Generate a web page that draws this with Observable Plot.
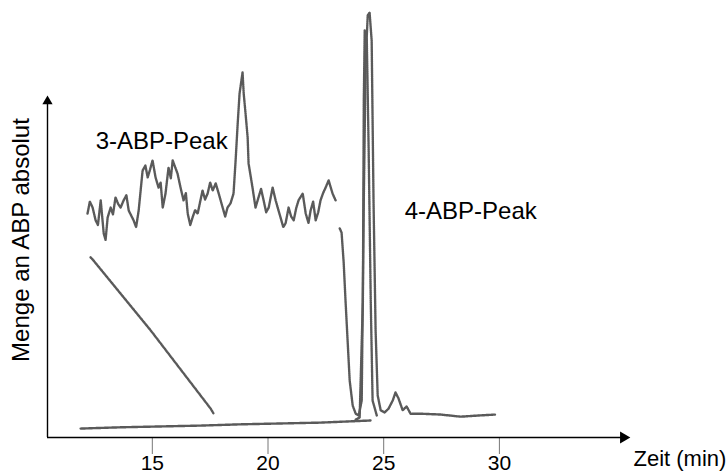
<!DOCTYPE html>
<html>
<head>
<meta charset="utf-8">
<script src="https://cdn.jsdelivr.net/npm/d3@7"></script>
<script src="https://cdn.jsdelivr.net/npm/@observablehq/plot@0.6"></script>
<style>
  html, body { margin: 0; padding: 0; background: #fff; }
  #chart svg { display: block; }
</style>
</head>
<body>
<div id="chart"></div>
<script>
// ---- data (time in min, amount in arbitrary units) ----
const xTicks = [15, 20, 25, 30];
const xDomain = [10.47, 35.45];
const yDomain = [0, 100];
const yAxisTop = 79.8;

// 3-ABP trace (noisy)
const traceA_t = [12.20,12.30,12.42,12.55,12.65,12.77,12.90,12.98,13.07,13.20,13.30,13.41,13.52,13.63,13.76,13.88,13.98,14.19,14.30,14.41,14.58,14.70,14.80,14.90,15.01,15.14,15.27,15.36,15.45,15.57,15.70,15.80,15.88,16.09,16.22,16.35,16.45,16.53,16.64,16.74,16.85,16.96,17.17,17.28,17.39,17.50,17.61,17.74,17.87,18.04,18.15,18.25,18.38,18.51,18.60,18.69,18.77,18.90,18.95,19.03,19.12,19.16,19.33,19.46,19.59,19.70,19.81,19.92,20.03,20.20,20.33,20.45,20.54,20.66,20.76,20.89,21.00,21.11,21.22,21.32,21.50,21.63,21.75,21.84,21.95,22.06,22.17,22.27,22.38,22.49,22.62,22.79,22.92];
const traceA_v = [52.7,55.5,54.1,51.1,50.0,55.8,48.0,46.5,51.8,54.1,52.5,56.5,55.0,54.1,55.8,57.0,53.4,51.1,49.5,53.4,62.8,64.0,61.2,63.0,65.2,61.2,58.8,60.0,54.1,57.4,63.5,61.0,65.2,62.1,58.8,55.8,57.5,52.7,50.0,51.8,53.5,52.7,58.1,56.0,57.4,60.0,58.1,59.8,57.4,54.1,52.0,54.1,55.1,57.4,65.2,73.9,80.9,85.9,80.9,76.2,70.6,64.5,58.8,54.1,56.5,58.5,55.8,53.0,54.1,58.8,55.8,53.5,51.8,49.5,50.4,54.1,52.0,51.1,54.0,55.8,57.4,52.7,50.5,53.4,55.5,51.1,53.0,55.8,57.5,58.8,60.5,57.4,55.8];

// diagonal trace
const traceB_t = [12.33,12.42,14.93,17.52,17.65];
const traceB_v = [42.4,41.9,25.2,6.8,5.6];

// baseline trace
const traceC_t = [11.90,13.63,15.36,17.09,18.82,20.54,22.27,23.57,24.43];
const traceC_v = [2.1,2.4,2.6,2.8,3.1,3.3,3.5,3.8,4.0];

// 4-ABP trace
const traceD_t = [23.10,23.18,23.27,23.35,23.44,23.53,23.66,23.79,23.92,24.05,24.14,24.22,24.31,24.39,24.48,24.56,24.65,24.74,24.87,25.04,25.21,25.39,25.51,25.64,25.82,25.99,26.16,26.59,27.46,28.32,29.19,29.84];
const traceD_v = [49.2,48.2,41.2,32.2,22.8,13.4,7.5,5.6,5.2,8.7,55.8,88.7,99.3,100,93.4,55.8,25.2,9.9,6.4,5.9,6.8,8.7,10.6,9.2,6.4,7.3,5.6,5.6,5.4,4.9,5.2,5.4];

// second 4-ABP trace
const traceE_t = [23.79,23.96,24.10,24.14,24.18,24.27,24.35,24.44,24.52,24.70];
const traceE_v = [4.2,4.7,32.2,79.3,95.8,93.4,67.5,32.2,8.7,5.2];

const peakLabels = ["3-ABP-Peak", "4-ABP-Peak"];
const peakLabel_t = [12.55, 25.91];
const peakLabel_v = [69.6, 53.2];

const xLabel = "Zeit (min)";
const yLabel = "Menge an ABP absolut";

// ---- build rows ----
const mk = (ts, vs, id) => ts.map((t, i) => ({t, v: vs[i], id}));
const traces = [
  ...mk(traceA_t, traceA_v, "A"),
  ...mk(traceB_t, traceB_v, "B"),
  ...mk(traceC_t, traceC_v, "C"),
  ...mk(traceD_t, traceD_v, "D"),
  ...mk(traceE_t, traceE_v, "E")
];
const labels = peakLabels.map((s, i) => ({s, t: peakLabel_t[i], v: peakLabel_v[i]}));

const chart = Plot.plot({
  width: 726,
  height: 475,
  marginLeft: 47,
  marginRight: 101,
  marginTop: 12,
  marginBottom: 38,
  style: {fontFamily: "'Liberation Sans', Arial, sans-serif", background: "#fff", color: "#000"},
  x: {domain: xDomain},
  y: {domain: yDomain, axis: null},
  marks: [
    Plot.line(traces, {x: "t", y: "v", z: "id", stroke: "#5a5a5a", strokeWidth: 2.4, strokeDasharray: "1.2 0.9"}),
    Plot.axisX({ticks: xTicks, tickSize: 17, stroke: "#777", fill: "#000", fontSize: 21, tickPadding: 1, label: null, tickFormat: d => d}),
    Plot.ruleY([0], {x1: xDomain[0], x2: xDomain[1], stroke: "#000", strokeWidth: 1.4}),
    Plot.ruleX([xDomain[0]], {y1: 0, y2: yAxisTop, stroke: "#000", strokeWidth: 1.4}),
    Plot.dot([{t: xDomain[1], v: 0}], {x: "t", y: "v", symbol: "triangle", r: 4.4, fill: "#000", stroke: null, rotate: 90, dx: -2}),
    Plot.dot([{t: xDomain[0], v: yAxisTop}], {x: "t", y: "v", symbol: "triangle", r: 3.8, fill: "#000", stroke: null, dy: 3}),
    Plot.text(labels, {x: "t", y: "v", text: "s", textAnchor: "start", fontSize: 24, fill: "#000"}),
    Plot.text([xLabel], {frameAnchor: "bottom-right", textAnchor: "start", dx: 8, dy: 28, fontSize: 22, fill: "#000"}),
    Plot.text([yLabel], {frameAnchor: "left", textAnchor: "middle", rotate: -90, dx: -26, dy: 15, fontSize: 24, fill: "#000"})
  ]
});
document.getElementById("chart").appendChild(chart);
</script>
</body>
</html>
